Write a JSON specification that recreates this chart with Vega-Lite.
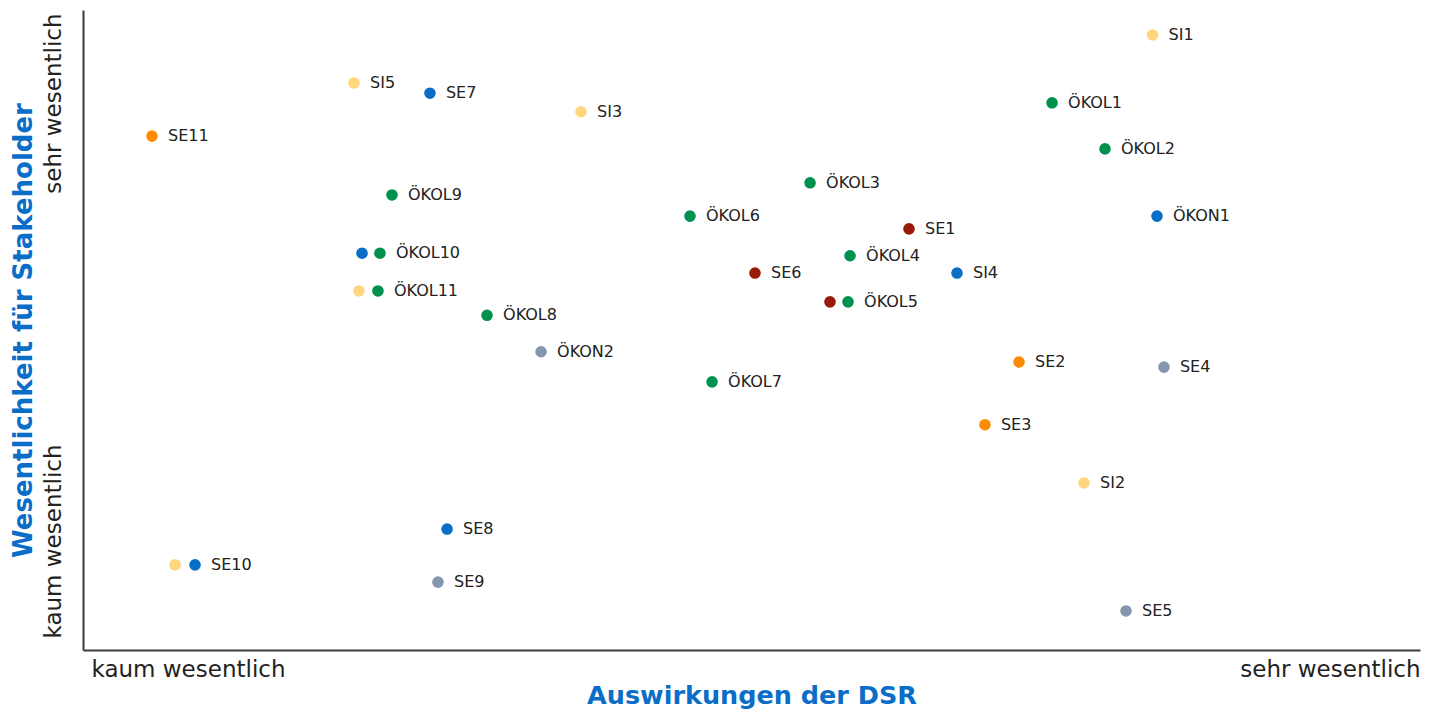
{
  "$schema": "https://vega.github.io/schema/vega-lite/v6.json",
  "width": 1337,
  "height": 640,
  "autosize": {"type": "none"},
  "padding": {"left": 83, "top": 10, "right": 18, "bottom": 63},
  "background": "white",
  "config": {
    "view": {"stroke": null},
    "axis": {"grid": false, "ticks": false, "domainColor": "#3a3a3a", "domainWidth": 2, "labelFont": "DejaVu Sans", "labelColor": "#222222", "labelLimit": 0, "titleFont": "DejaVu Sans", "titleColor": "#0a6ec8", "titleFontWeight": "bold", "titleLimit": 0}
  },
  "data": {"values": [
    {"x": 80.0, "y": 96.1, "g": "gelb", "label": "SI1"},
    {"x": 20.27, "y": 88.6, "g": "gelb", "label": "SI5"},
    {"x": 25.95, "y": 87.0, "g": "blau", "label": "SE7"},
    {"x": 37.25, "y": 84.1, "g": "gelb", "label": "SI3"},
    {"x": 5.16, "y": 80.3, "g": "orange", "label": "SE11"},
    {"x": 72.48, "y": 85.5, "g": "grün", "label": "ÖKOL1"},
    {"x": 76.44, "y": 78.3, "g": "grün", "label": "ÖKOL2"},
    {"x": 54.38, "y": 73.0, "g": "grün", "label": "ÖKOL3"},
    {"x": 23.11, "y": 71.1, "g": "grün", "label": "ÖKOL9"},
    {"x": 45.4, "y": 67.8, "g": "grün", "label": "ÖKOL6"},
    {"x": 80.33, "y": 67.8, "g": "blau", "label": "ÖKON1"},
    {"x": 61.78, "y": 65.8, "g": "rot", "label": "SE1"},
    {"x": 20.87, "y": 62.0, "g": "blau", "label": ""},
    {"x": 22.21, "y": 62.0, "g": "grün", "label": "ÖKOL10"},
    {"x": 57.37, "y": 61.6, "g": "grün", "label": "ÖKOL4"},
    {"x": 50.26, "y": 58.9, "g": "rot", "label": "SE6"},
    {"x": 65.37, "y": 58.9, "g": "blau", "label": "SI4"},
    {"x": 20.64, "y": 56.1, "g": "gelb", "label": ""},
    {"x": 22.06, "y": 56.1, "g": "grün", "label": "ÖKOL11"},
    {"x": 55.87, "y": 54.4, "g": "rot", "label": ""},
    {"x": 57.22, "y": 54.4, "g": "grün", "label": "ÖKOL5"},
    {"x": 30.22, "y": 52.3, "g": "grün", "label": "ÖKOL8"},
    {"x": 34.26, "y": 46.6, "g": "grau", "label": "ÖKON2"},
    {"x": 70.01, "y": 45.0, "g": "orange", "label": "SE2"},
    {"x": 80.85, "y": 44.2, "g": "grau", "label": "SE4"},
    {"x": 47.05, "y": 41.9, "g": "grün", "label": "ÖKOL7"},
    {"x": 67.46, "y": 35.2, "g": "orange", "label": "SE3"},
    {"x": 74.87, "y": 26.1, "g": "gelb", "label": "SI2"},
    {"x": 27.23, "y": 18.9, "g": "blau", "label": "SE8"},
    {"x": 6.88, "y": 13.3, "g": "gelb", "label": ""},
    {"x": 8.38, "y": 13.3, "g": "blau", "label": "SE10"},
    {"x": 26.55, "y": 10.6, "g": "grau", "label": "SE9"},
    {"x": 78.01, "y": 6.1, "g": "grau", "label": "SE5"}
  ]},
  "encoding": {
    "x": {"field": "x", "type": "quantitative", "scale": {"domain": [0, 100], "nice": false, "zero": false},
      "axis": {"values": [0, 100], "labelExpr": "datum.value == 0 ? 'kaum wesentlich' : 'sehr wesentlich'", "labelFlush": true, "labelOffset": {"condition": {"test": "datum.value == 0", "value": 8}, "value": 0}, "labelFontSize": 23, "labelPadding": 8, "title": "Auswirkungen der DSR", "titleFontSize": 25.5, "titlePadding": 2}},
    "y": {"field": "y", "type": "quantitative", "scale": {"domain": [0, 100], "nice": false, "zero": false},
      "axis": {"values": [0, 100], "labelExpr": "datum.value == 0 ? 'kaum wesentlich' : 'sehr wesentlich'", "labelAngle": -90, "labelAlign": {"condition": {"test": "datum.value == 0", "value": "left"}, "value": "right"}, "labelOffset": {"condition": {"test": "datum.value == 0", "value": -12}, "value": 3}, "labelBaseline": "bottom", "labelFontSize": 23, "labelPadding": 18, "title": "Wesentlichkeit für Stakeholder", "titleFontSize": 26, "titlePadding": 6}}
  },
  "layer": [
    {"mark": {"type": "circle", "size": 135, "opacity": 1},
     "encoding": {"color": {"field": "g", "type": "nominal", "legend": null,
       "scale": {"domain": ["gelb", "blau", "grün", "rot", "grau", "orange"], "range": ["#ffd57e", "#0a6ec8", "#00914f", "#9a1a0a", "#8597b0", "#ff8c00"]}}}},
    {"mark": {"type": "text", "align": "left", "baseline": "middle", "dx": 16, "font": "DejaVu Sans", "fontSize": 16, "color": "#222222"},
     "encoding": {"text": {"field": "label"}}}
  ]
}
